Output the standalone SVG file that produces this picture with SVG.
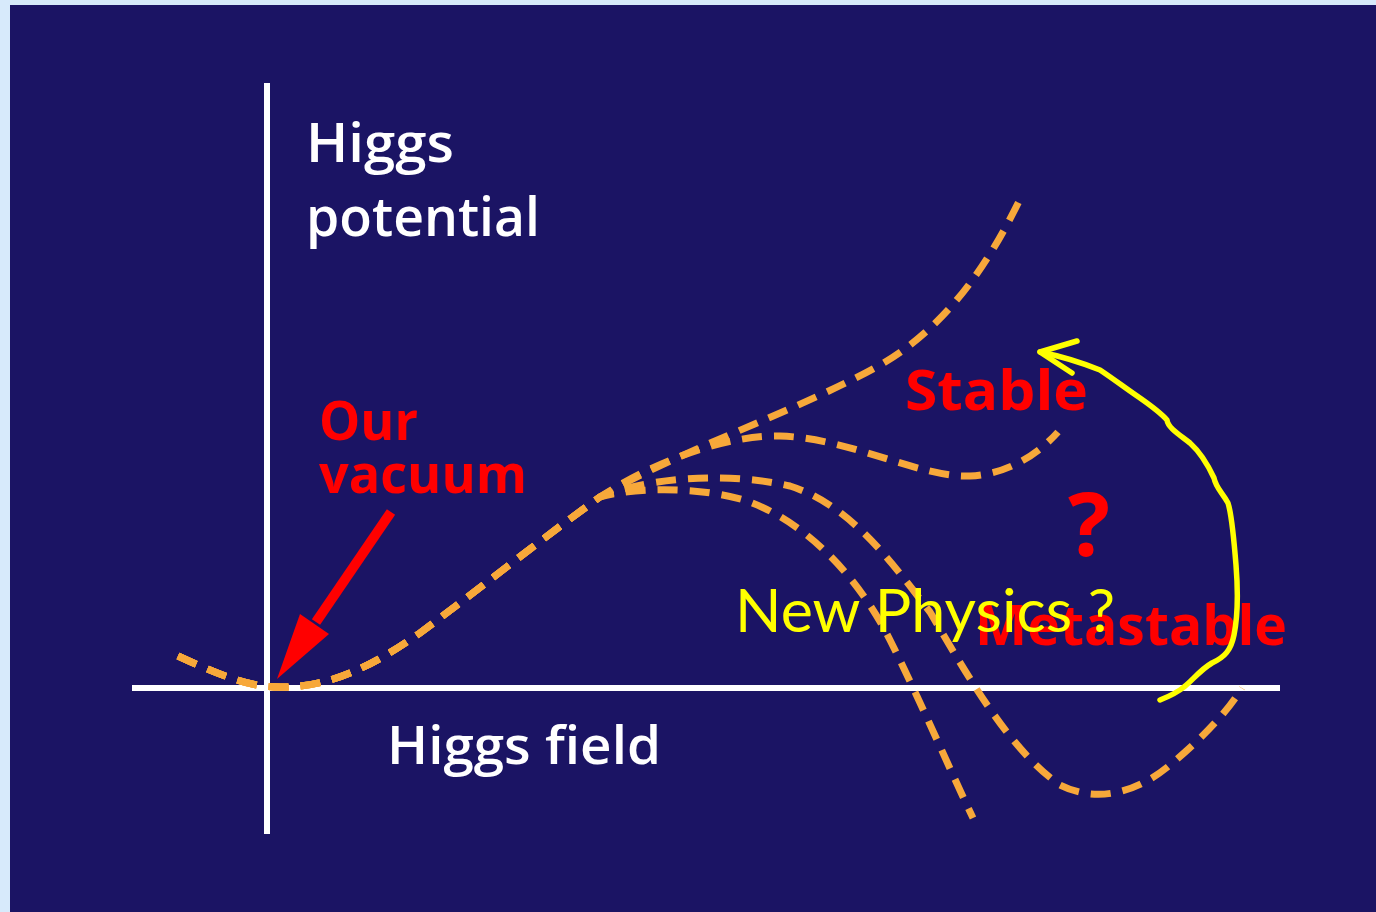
<svg xmlns="http://www.w3.org/2000/svg" width="1376" height="912" viewBox="0 0 1376 912">
<style>
.curve{fill:none;stroke:#f7a83a;stroke-width:7;stroke-dasharray:20 12}
.axis{stroke:#ffffff;stroke-width:6}
.wt{fill:#ffffff;font-family:"Open Sans",sans-serif;font-weight:600}
.rt{fill:#ff0000;font-family:"Open Sans",sans-serif;font-weight:700}
.yt{fill:#ffff00;font-family:Lato,"Open Sans",sans-serif}
</style>
<rect x="0" y="0" width="1376" height="912" fill="#d7eafb"/>
<rect x="10" y="5" width="1366" height="907" fill="#1b1464"/>
<g id="axes">
<line class="axis" x1="267" y1="83" x2="267" y2="834"/>
<line class="axis" x1="132" y1="688" x2="1280" y2="688"/>
</g>
<g id="curves">
<path id="curve-rising" class="curve" d="M178,656 C230,680 255,688 285,687 C330,686 370,668 420,633 C470,596 540,540 600,497 C680,450 800,410 880,365 C950,325 992,258 1023,193"/>
<path id="curve-stable" class="curve" d="M178,656 C230,680 255,688 285,687 C330,686 370,668 420,633 C470,596 540,540 600,497 C660,458 730,435 780,436 C850,438 920,478 970,476 C1010,474 1040,452 1058,432"/>
<path id="curve-metastable" class="curve" d="M178,656 C230,680 255,688 285,687 C330,686 370,668 420,633 C470,596 540,540 600,497 C640,480 720,470 790,486 C850,505 890,560 930,612 C970,680 1010,750 1060,785 C1100,805 1140,790 1170,765 C1200,740 1225,715 1242,688"/>
<path id="curve-unstable" class="curve" d="M178,656 C230,680 255,688 285,687 C330,686 370,668 420,633 C470,596 540,540 600,497 C630,488 700,485 750,502 C810,525 860,580 890,640 C920,700 950,770 973,818"/>
</g>
<g id="labels">
<text class="wt" x="306" y="162" font-size="55" textLength="148" lengthAdjust="spacingAndGlyphs">Higgs</text>
<text class="wt" x="306" y="236" font-size="55" textLength="234" lengthAdjust="spacingAndGlyphs">potential</text>
<text class="wt" x="387" y="764" font-size="52" textLength="274" lengthAdjust="spacingAndGlyphs">Higgs field</text>
<text class="rt" x="319" y="440" font-size="53" textLength="99" lengthAdjust="spacingAndGlyphs">Our</text>
<text class="rt" x="319" y="493" font-size="53" textLength="208" lengthAdjust="spacingAndGlyphs">vacuum</text>
<text class="rt" x="905" y="410" font-size="55" textLength="183" lengthAdjust="spacingAndGlyphs">Stable</text>
<text class="rt" x="1089" y="556" font-size="88" text-anchor="middle">?</text>
<text class="rt" x="975" y="645" font-size="56" font-weight="600" textLength="312" lengthAdjust="spacingAndGlyphs">Metastable</text>
</g>
<g id="vacuum-arrow">
<line x1="391" y1="512" x2="316" y2="622" stroke="#ff0000" stroke-width="10"/>
<polygon points="277,679 300,614 329,634" fill="#ff0000"/>
</g>
<g id="new-physics">
<text class="yt" x="735" y="632" font-size="60" textLength="380" lengthAdjust="spacingAndGlyphs">New Physics ?</text>
<path d="M1160,700 C1170,696 1178,692 1184,687 C1193,680 1200,670 1212,663 C1225,657 1231,650 1234,635 C1238,615 1238,590 1236,565 C1234,540 1232,515 1228,503 C1222,492 1216,488 1214,478 C1208,465 1200,452 1190,443 C1180,435 1168,428 1167,420 C1160,412 1150,405 1140,398 C1128,390 1115,380 1100,370 C1080,362 1060,356 1040,352" fill="none" stroke="#ffff00" stroke-width="5.5" stroke-linecap="round" stroke-linejoin="round"/>
<path d="M1077,341 L1040,352 L1072,373" fill="none" stroke="#ffff00" stroke-width="5.5" stroke-linecap="round" stroke-linejoin="round"/>
</g>
</svg>
